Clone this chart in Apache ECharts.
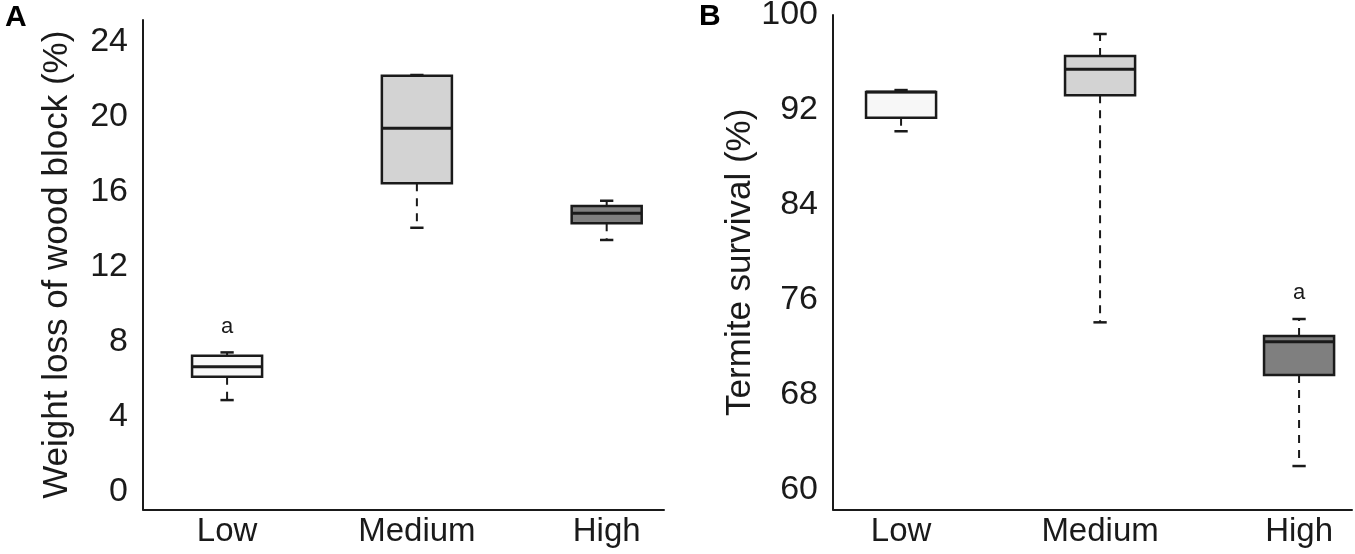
<!DOCTYPE html>
<html lang="en">
<head>
<meta charset="UTF-8">
<title>Weight loss and termite survival</title>
<script src="https://cdn.jsdelivr.net/npm/echarts@6/dist/echarts.min.js"></script>
<style>
  * { margin: 0; padding: 0; }
  html, body, #main { width: 100%; height: 100%; background: #fff; }
</style>
</head>
<body>
<div id="main"></div>
<script>
// categories on both panels
const categories = ['Low', 'Medium', 'High'];
// box stats per category: [min, Q1, median, Q3, max]
const weightLoss = [
  [4.90, 6.14, 6.68, 7.26, 7.44],
  [14.08, 16.45, 19.38, 22.18, 22.22],
  [13.43, 14.32, 14.85, 15.24, 15.52]
];
const survival = [
  [90.21, 91.35, 93.52, 93.52, 93.68],
  [74.12, 93.24, 95.43, 96.55, 98.40],
  [62.02, 69.68, 72.49, 72.97, 74.40]
];
const weightTicks = [0, 4, 8, 12, 16, 20, 24];
const survivalTicks = [60, 68, 76, 84, 92, 100];
// significance letters: [category position, value, letter]
const weightLetters = [[1, 8.81, 'a']];
const survivalLetters = [[3, 76.56, 'a']];

const boxFills = ['#f7f7f7', '#d3d3d3', '#7f7f7f'];
const ink = '#1a1a1a';
const font = "'Liberation Sans', Arial, Helvetica, sans-serif";

const chart = echarts.init(document.getElementById('main'));

function boxRenderer(boxWidth) {
  return function (params, api) {
    const x = api.value(0);
    const lo = api.coord([x, api.value(1)]);
    const q1 = api.coord([x, api.value(2)]);
    const med = api.coord([x, api.value(3)]);
    const q3 = api.coord([x, api.value(4)]);
    const hi = api.coord([x, api.value(5)]);
    const w = api.size([boxWidth, 0])[0];
    const cap = w * 0.19;
    const cx = q1[0];
    const dash = { stroke: ink, lineWidth: 2, lineDash: [8, 7] };
    const solid = { stroke: ink, lineWidth: 2.5 };
    return {
      type: 'group',
      children: [
        { type: 'line', shape: { x1: cx, y1: q3[1], x2: cx, y2: hi[1] }, style: dash },
        { type: 'line', shape: { x1: cx, y1: q1[1], x2: cx, y2: lo[1] }, style: dash },
        { type: 'line', shape: { x1: cx - cap / 2, y1: hi[1], x2: cx + cap / 2, y2: hi[1] }, style: solid },
        { type: 'line', shape: { x1: cx - cap / 2, y1: lo[1], x2: cx + cap / 2, y2: lo[1] }, style: solid },
        {
          type: 'rect',
          shape: { x: cx - w / 2, y: q3[1], width: w, height: q1[1] - q3[1] },
          style: { fill: boxFills[params.dataIndex], stroke: ink, lineWidth: 2.5 }
        },
        { type: 'line', shape: { x1: cx - w / 2, y1: med[1], x2: cx + w / 2, y2: med[1] }, style: { stroke: ink, lineWidth: 3 } }
      ]
    };
  };
}

function letterRenderer(params, api) {
  const p = api.coord([api.value(0), api.value(1)]);
  return {
    type: 'text',
    style: {
      x: p[0], y: p[1], text: api.value(2),
      fill: ink, font: '22px ' + font,
      textAlign: 'center', textVerticalAlign: 'middle'
    }
  };
}

function xAxisFor(idx, min, max) {
  return {
    type: 'value', gridIndex: idx, min: min, max: max,
    axisLine: { onZero: false, lineStyle: { color: ink, width: 2 } },
    axisTick: { show: false },
    splitLine: { show: false },
    axisLabel: {
      customValues: [1, 2, 3],
      formatter: v => categories[Math.round(v) - 1],
      fontSize: 33, fontFamily: font, color: ink, margin: 6
    }
  };
}

function yAxisFor(idx, min, max, ticks, name, gap) {
  return {
    type: 'value', gridIndex: idx, min: min, max: max,
    axisLine: { show: true, onZero: false, lineStyle: { color: ink, width: 2 } },
    axisTick: { show: false },
    splitLine: { show: false },
    axisLabel: {
      customValues: ticks,
      fontSize: 34, fontFamily: font, color: ink, margin: 15
    },
    name: name, nameLocation: 'middle', nameRotate: 90, nameGap: gap,
    nameTextStyle: { fontSize: 35, fontFamily: font, color: ink }
  };
}

const option = {
  backgroundColor: '#fff',
  animation: false,
  title: [
    { text: 'A', left: 5, top: 3, padding: 0, textStyle: { fontSize: 30, fontWeight: 'bold', fontFamily: font, color: '#000' } },
    { text: 'B', left: 699, top: 2, padding: 0, textStyle: { fontSize: 30, fontWeight: 'bold', fontFamily: font, color: '#000' } }
  ],
  grid: [
    { left: 143, right: 691, top: 20, bottom: 44.5, outerBoundsMode: 'none' },
    { left: 833, right: 3, top: 15, bottom: 44.5, outerBoundsMode: 'none' }
  ],
  xAxis: [xAxisFor(0, 0.557, 3.302), xAxisFor(1, 0.658, 3.266)],
  yAxis: [
    yAxisFor(0, -0.93, 25.15, weightTicks, 'Weight loss of wood block (%)', 68),
    yAxisFor(1, 58.36, 100, survivalTicks, 'Termite survival (%)', 71)
  ],
  series: [
    {
      type: 'custom', xAxisIndex: 0, yAxisIndex: 0,
      renderItem: boxRenderer(0.369),
      encode: { x: 0, y: [1, 2, 3, 4, 5] },
      data: weightLoss.map((s, i) => [i + 1].concat(s))
    },
    {
      type: 'custom', xAxisIndex: 1, yAxisIndex: 1,
      renderItem: boxRenderer(0.352),
      encode: { x: 0, y: [1, 2, 3, 4, 5] },
      data: survival.map((s, i) => [i + 1].concat(s))
    },
    {
      type: 'custom', xAxisIndex: 0, yAxisIndex: 0,
      renderItem: letterRenderer,
      encode: { x: 0, y: 1 },
      data: weightLetters
    },
    {
      type: 'custom', xAxisIndex: 1, yAxisIndex: 1,
      renderItem: letterRenderer,
      encode: { x: 0, y: 1 },
      data: survivalLetters
    }
  ]
};

chart.setOption(option);
</script>
</body>
</html>
